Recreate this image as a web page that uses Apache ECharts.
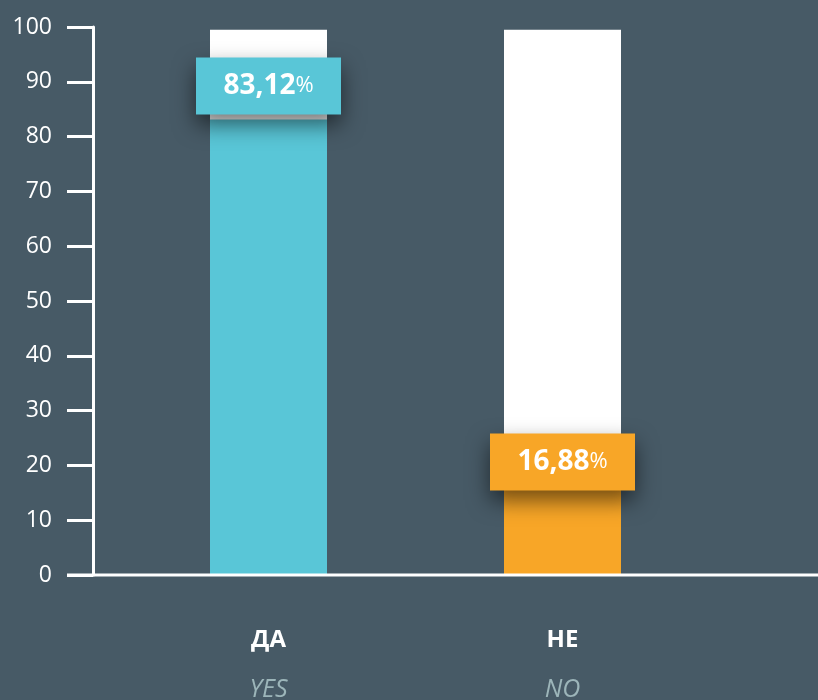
<!DOCTYPE html>
<html>
<head>
<meta charset="utf-8">
<script src="https://cdn.jsdelivr.net/npm/echarts@6/dist/echarts.min.js"></script>
<style>
  html, body { margin: 0; padding: 0; background: #475a66; }
  #main { width: 818px; height: 700px; }
</style>
</head>
<body>
<div id="main"></div>
<script>
// data
const categories = ['ДА', 'НЕ'];
const subLabels = ['YES', 'NO'];
const values = [83.12, 16.88];
const fullValues = [99.5, 99.5];
const barColors = ['#59c6d7', '#f8a627'];

const chart = echarts.init(document.getElementById('main'));

const labelOffsets = [[0, -5], [0, 8]];

const option = {
  backgroundColor: '#475a66',
  animation: false,
  grid: {
    left: 121.5,
    right: 108.5,
    top: 27,
    bottom: 125,
    outerBoundsMode: 'none',
    containLabel: false
  },
  xAxis: {
    type: 'category',
    data: categories,
    axisLine: { show: false },
    axisTick: { show: false },
    axisLabel: {
      margin: 40,
      formatter: (v, i) => '{a|' + v + '}\n{b|' + subLabels[i] + '}',
      rich: {
        a: { fontFamily: 'Open Sans', fontWeight: 'bold', fontSize: 24, color: '#ffffff', lineHeight: 50 },
        b: { fontFamily: 'Open Sans', fontStyle: 'italic', fontSize: 25, color: '#9cb5b9', lineHeight: 50 }
      }
    }
  },
  yAxis: {
    type: 'value',
    min: 0,
    max: 100,
    interval: 10,
    offset: 28.5,
    axisLine: { show: true, lineStyle: { color: '#ffffff', width: 3 } },
    axisTick: { show: true, length: 26, lineStyle: { color: '#ffffff', width: 3 } },
    splitLine: { show: false },
    axisLabel: {
      margin: 41,
      color: '#ffffff',
      fontFamily: 'Open Sans',
      fontSize: 23
    }
  },
  series: [
    {
      type: 'bar',
      barWidth: 117,
      barGap: '-100%',
      silent: true,
      itemStyle: { color: '#ffffff' },
      data: fullValues
    },
    {
      type: 'bar',
      barWidth: 117,
      z: 3,
      data: values.map((v, i) => ({
        value: v,
        itemStyle: { color: barColors[i] },
        label: {
          show: true,
          position: 'top',
          distance: 0,
          offset: labelOffsets[i],
          backgroundColor: barColors[i],
          width: 145,
          padding: 0,
          align: 'center',
          shadowColor: 'rgba(0,0,0,0.55)',
          shadowBlur: 22,
          shadowOffsetY: 10,
          formatter: p => '{n|' + String(p.value.toFixed(2)).replace('.', ',') + '}{p|%}',
          rich: {
            n: { fontFamily: 'Open Sans', fontWeight: 'bold', fontSize: 28, color: '#ffffff', lineHeight: 57 },
            p: { fontFamily: 'Open Sans', fontSize: 22, color: '#ffffff', lineHeight: 57 }
          }
        }
      }))
    }
  ]
};

chart.setOption(option);

// extended baseline running under the y axis to the right edge
const y0 = chart.convertToPixel({ yAxisIndex: 0 }, 0);
chart.setOption({
  graphic: [{
    type: 'line',
    z: 10,
    shape: { x1: 67, y1: y0, x2: 818, y2: y0 },
    style: { stroke: '#ffffff', lineWidth: 3 }
  }]
});
</script>
</body>
</html>
